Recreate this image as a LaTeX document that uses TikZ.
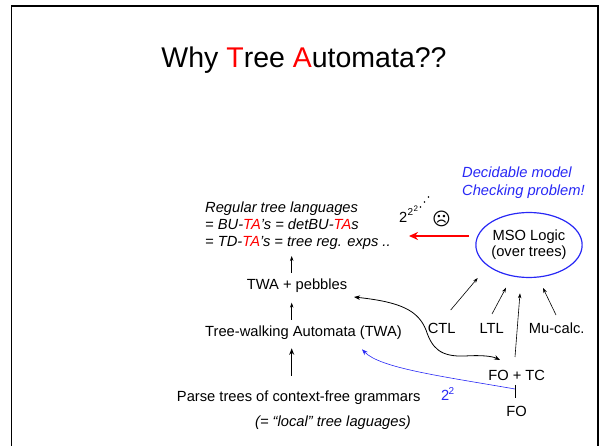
\documentclass[tikz,border=0pt]{standalone}
\usepackage{fontspec}
\setmainfont{Liberation Sans}
\newfontfamily\symfont{DejaVu Sans}
\usetikzlibrary{arrows.meta,calc,shapes.geometric}
\definecolor{myblue}{RGB}{40,40,245}
\definecolor{myred}{RGB}{255,0,0}
\begin{document}
\begin{tikzpicture}[x=1pt,y=-1pt,
  txt/.style={inner sep=0pt, font=\fontsize{14.7}{16}\selectfont},
  itxt/.style={inner sep=0pt, font=\fontsize{14.7}{16}\selectfont\itshape},
  arr/.style={line width=0.6pt, -{Stealth[length=5pt,width=3.5pt]}},
  bigarr/.style={line width=1.1pt, -{Stealth[length=6.5pt,width=5pt]}},
  redarr/.style={line width=2pt, draw=myred, -{Stealth[length=9pt,width=8pt]}},
  curvearr/.style={line width=0.8pt, {Stealth[length=6pt,width=4.5pt]}-{Stealth[length=6pt,width=4.5pt]}},
  bluearr/.style={line width=0.6pt, draw=myblue, -{Stealth[length=6pt,width=4.5pt]}},
  supsty/.style={inner sep=0pt, anchor=base west, font=\fontsize{10}{10}\selectfont},
  supsupsty/.style={inner sep=0pt, anchor=base west, font=\fontsize{8}{8}\selectfont}]
\useasboundingbox (0,0) rectangle (600,446);
% frame
\draw[line width=1.4pt] (11.5,450) -- (11.5,6) -- (598,6) -- (598,450);

% title
\node[inner sep=0pt, anchor=base, font=\fontsize{28.5}{30}\selectfont] (title) at (304,67.5)
  {Why \textcolor{myred}{T}ree \textcolor{myred}{A}utomata??};

% regular tree languages
\node[itxt, anchor=base west] (reg1) at (205,212.5) {Regular tree languages};
\node[itxt, anchor=base west] (reg2) at (205,229.5) {= BU-\textcolor{myred}{TA}’s = detBU-\textcolor{myred}{TA}s};
\node[itxt, anchor=base west] (reg3) at (205,246.5) {= TD-\textcolor{myred}{TA}’s = tree reg. exps ..};

% left column
\node[txt] (pebbles) at (297,286) {TWA + pebbles};
\node[txt] (twa) at (303.5,333) {Tree-walking Automata (TWA)};
\node[txt] (parse) at (298.7,397.3) {Parse trees of context-free grammars};
\node[itxt] (local) at (333,422.7) {(= “local” tree laguages)};

% tower and frowny
\node[txt, anchor=base west] (two) at (399,223) {2};
\node[supsty] (twosup) at (407.5,215.5) {2};
\node[supsupsty] (twosupsup) at (413.5,212) {2};
\fill (420.5,207) circle (0.8);
\fill (424.5,202) circle (0.8);
\fill (428.5,197) circle (0.8);
\node[inner sep=0pt, font=\symfont\fontsize{18}{18}\selectfont] (frown) at (441.5,218.5) {☹};

% decidable
\node[itxt, anchor=base west, text=myblue] (dec1) at (462,178) {Decidable model};
\node[itxt, anchor=base west, text=myblue] (dec2) at (462,195.5) {Checking problem!};

% MSO ellipse
\node[ellipse, draw=myblue, line width=1.2pt, minimum width=102pt, minimum height=65pt,
      inner sep=0pt, align=center, font=\fontsize{14.7}{16}\selectfont] (mso) at (529,245)
  {MSO Logic\\(over trees)};

% logics
\node[txt] (ctl) at (441.7,328) {CTL};
\node[txt] (ltl) at (491.7,328) {LTL};
\node[txt] (mu) at (556.7,328) {Mu-calc.};
\node[txt] (fotc) at (516.7,375) {FO + TC};
\node[txt] (fo) at (516.7,411.7) {FO};

% blue 2^2
\node[txt, anchor=base west, text=myblue] (bl2) at (441,400) {2};
\node[supsty, text=myblue] (bl2s) at (448.3,395) {2};

% arrows left column
\draw[arr] ($(pebbles)+(-5.3,-13)$) -- ($(reg3.base west)+(86.7,9.5)$);
\draw[arr] ($(twa)+(-11.8,-13)$) -- ($(pebbles)+(-5.3,16.7)$);
\draw[bigarr] ($(parse)+(-7,-21.3)$) -- ($(twa)+(-11.8,15.3)$);

% red arrow
\draw[redarr] ($(mso)+(-60,-9)$) -- ($(reg3.base west)+(204,-10.5)$);

% arrows into MSO
\draw[arr] ($(ctl)+(9,-18)$) -- ($(mso)+(-51.3,33)$);
\draw[arr] ($(ltl)+(0.3,-14)$) -- ($(mso)+(-23,42.7)$);
\draw[arr] ($(fotc)+(-1.7,-18)$) -- ($(mso)+(-9,48.3)$);
\draw[arr] ($(mu)+(-0.7,-13)$) -- ($(mso)+(14,43)$);

% FO to FO+TC tick
\draw[line width=0.6pt] ($(fotc)+(-1.7,10)$) -- ($(fo)+(-1.7,-13.7)$);

% blue curve
\draw[bluearr] ($(fotc)+(-1.7,14)$) .. controls (440,376) and (380,368) .. ($(twa)+(58.5,16.3)$);

% black S-curve
\draw[curvearr] ($(pebbles)+(57,11)$) .. controls (400,302) and (418,310) .. (426,330)
  .. controls (432,348) and (440,357) .. (465,356)
  .. controls (480,355) and (492,356) .. ($(fotc)+(-16.7,-15)$);
\end{tikzpicture}
\end{document}
